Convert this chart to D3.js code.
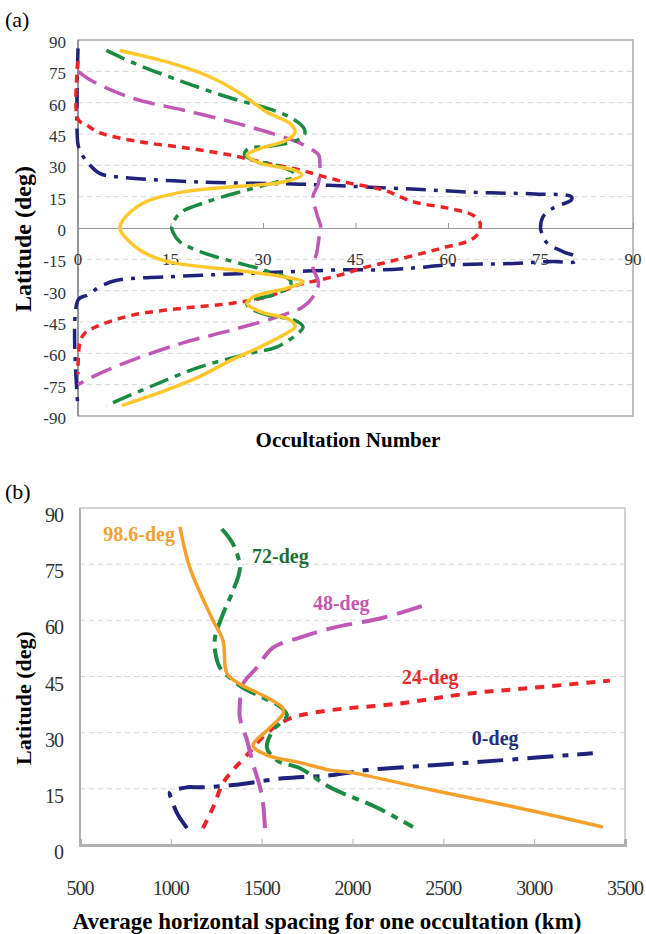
<!DOCTYPE html>
<html>
<head>
<meta charset="utf-8">
<script src="https://cdn.jsdelivr.net/npm/d3@7"></script>
<style>
  body { margin: 0; background: #fff; }
  svg, svg text { font-family: "Liberation Serif", "DejaVu Serif", serif; }
</style>
</head>
<body>
<div id="chart"></div>
<script>
// ---- panel (a): occultation number vs latitude ----
var latTicksA = [90, 75, 60, 45, 30, 15, 0, -15, -30, -45, -60, -75, -90];
var occTicksA = [0, 15, 30, 45, 60, 75, 90];

var a0Occ = [0, 0, 0.5, 1.5, 3.6, 6.3, 20, 36, 44, 55, 65, 74, 80, 80, 77, 75.4, 75, 75.2, 76, 78.7, 80.6, 80.6, 77, 70.6, 60, 55, 49.5, 43, 34, 25, 14.4, 6.3, 3.6, 1.6, 0, 0];
var a0Lat = [86, 40, 36, 31.6, 26, 24.5, 22, 21, 20, 18.5, 17, 16.3, 15, 13.4, 9.5, 5.3, 0, -2.4, -7, -11.4, -13.7, -16, -16, -17, -17.7, -19, -20, -20, -21, -22, -23.4, -25, -28, -32, -34.5, -86];

var a24Occ = [0, 0, 1.4, 3.6, 10, 17.6, 24.6, 30.6, 36, 40, 44, 49.5, 54.4, 60, 64, 65.2, 65.2, 64.7, 63, 59.8, 56, 50.6, 46, 42.5, 39, 36, 30.6, 25, 17, 9, 3.6, 1.1, 0.3, 0];
var a24Lat = [80, 52, 49.3, 45.5, 41.3, 38.3, 35, 31, 27.8, 24.5, 21.5, 18.2, 12.5, 9.5, 6.2, 2.4, 0, -3.4, -6.6, -9, -12, -16, -19.3, -22.5, -25, -27, -33, -36, -38.4, -41.6, -46.5, -50.4, -55, -70];

var a48Occ = [0, 2.5, 9, 17, 25, 32.3, 36, 39, 39.2, 39, 38.1, 38.7, 39.4, 39.2, 38.7, 38.1, 39, 38.1, 36.5, 33.3, 25, 17, 9, 2.5, 0];
var a48Lat = [75, 70, 62, 56.5, 50.7, 44.5, 40.6, 35, 32.5, 21.5, 15, 7, 0, -2.5, -12, -18.6, -26.5, -33, -37.7, -41.6, -48.8, -55, -63, -71, -75];

var a72Occ = [4.6, 9, 17, 25, 30.6, 34.4, 36.5, 36.8, 35.5, 30.6, 27.6, 27, 28.4, 32.2, 35, 35, 31.7, 26.3, 20.9, 16.5, 15.2, 15.4, 16.5, 19.8, 25, 30, 34.4, 34.4, 31.7, 27.4, 27.6, 30.6, 35, 36.5, 36, 32.2, 27.9, 19.8, 11.7, 4.6];
var a72Lat = [85, 79, 70, 62, 57.4, 53, 48.4, 45.4, 42, 39, 38, 35, 32.5, 30, 26.3, 24.5, 21.6, 17.3, 12.5, 7, 0.5, -2, -6.5, -11.3, -16, -20, -25, -27.8, -32, -35.4, -37.7, -41.6, -44, -47.3, -49.6, -57, -60, -66.5, -76, -85];

var a98Occ = [6.8, 14.4, 20.9, 26.3, 30.6, 34.4, 35.2, 33.8, 29.5, 27.4, 29.5, 35, 36.3, 33.3, 25, 17, 10.6, 7.3, 6.8, 7.1, 10, 14.4, 25, 33.2, 36.5, 33.9, 28.4, 27.4, 29.5, 34.4, 35.2, 33.8, 29.5, 25, 19.8, 14.4, 7.1];
var a98Lat = [85, 79.5, 73, 64.5, 55.5, 50, 46, 42, 38, 35, 31, 27.8, 25.4, 22, 19.7, 17.3, 12, 3.8, 0, -2.4, -10.5, -16, -20, -23.3, -25.8, -28.8, -33, -36, -40, -44, -47.4, -50.4, -57, -63, -71, -77.5, -85];

// ---- panel (b): average horizontal spacing vs latitude ----
var latTicksB = [0, 15, 30, 45, 60, 75, 90];
var kmTicksB = [500, 1000, 1500, 2000, 2500, 3000, 3500];

var b0Km = [1089, 1034, 1006, 995, 1089, 1160, 1342, 1617, 1876, 2079, 2443, 2811, 3323];
var b0Lat = [4.5, 8.5, 12, 14, 15.4, 15.4, 16, 17.8, 18.6, 20, 21.3, 22.6, 24.5];

var b24Km = [1177, 1232, 1287, 1342, 1419, 1520, 1620, 1711, 1876, 2261, 2630, 2993, 3417];
var b24Lat = [4.5, 10, 16.5, 20, 24, 29.5, 33, 34.6, 36, 37.8, 40.4, 42, 43.9];

var b48Km = [1518, 1508, 1491, 1452, 1419, 1380, 1380, 1397, 1474, 1562, 1711, 1892, 2168, 2388];
var b48Lat = [4.5, 11, 15.4, 21.8, 28, 34, 37.8, 43, 47.4, 52.7, 55.4, 58, 60.7, 63.9];

var b72Km = [1281, 1342, 1380, 1342, 1287, 1243, 1243, 1270, 1342, 1397, 1500, 1600, 1639, 1562, 1529, 1584, 1711, 1876, 2134, 2333];
var b72Lat = [84.4, 80.4, 74, 67.9, 61.7, 55.4, 52, 47.4, 44, 42, 39.5, 37, 34.6, 30.6, 26, 22.6, 20.5, 15.4, 10, 4.8];

var b98Km = [1050, 1105, 1232, 1287, 1309, 1380, 1529, 1617, 1617, 1529, 1452, 1529, 1711, 1876, 1986, 2443, 2905, 3378];
var b98Lat = [85, 74, 60, 54.6, 45.8, 43, 39.4, 36.5, 35, 30.6, 26.6, 24, 22, 20, 19.4, 14.6, 10, 4.8];

var seriesNames = ["0-deg", "24-deg", "48-deg", "72-deg", "98.6-deg"];

function zip(xs, ys) {
    return xs.map(function(v, i) { return [v, ys[i]]; });
}

var serif = "'Liberation Serif', 'DejaVu Serif', serif";

var svg = d3.select('#chart').append('svg')
    .attr("width", 646)
    .attr("height", 934)
    .attr("font-family", serif);

// =================== panel (a) ===================
var marginA = { top: 40, left: 78, right: 13, bottom: 518 },
    widthA = 646 - marginA.left - marginA.right,
    heightA = 934 - marginA.top - marginA.bottom;

var xA = d3.scaleLinear().domain([0, 90]).range([0, widthA]);
var yA = d3.scaleLinear().domain([-90, 90]).range([heightA, 0]);

var gA = svg.append("g")
    .attr("transform", "translate(" + marginA.left + "," + marginA.top + ")");

// dashed gridlines
gA.append("g").selectAll("line")
    .data(latTicksA.filter(function(d) { return d !== 0 && Math.abs(d) !== 90; }))
    .enter().append("line")
    .attr("x1", 0).attr("x2", widthA)
    .attr("y1", function(d) { return yA(d); })
    .attr("y2", function(d) { return yA(d); })
    .attr("stroke", "#d6d6d6")
    .attr("stroke-dasharray", "5,4");

// frame
gA.append("rect")
    .attr("width", widthA).attr("height", heightA)
    .attr("fill", "none").attr("stroke", "#a8a8a8").attr("stroke-width", 1.5);
gA.append("line")
    .attr("x1", 0).attr("x2", 0).attr("y1", 0).attr("y2", heightA)
    .attr("stroke", "#8a8a8a").attr("stroke-width", 1.5);

// x axis through 0
var xAxisA = gA.append("g")
    .attr("transform", "translate(0," + yA(0) + ")")
    .call(d3.axisTop(xA).tickValues(occTicksA).tickSize(5).tickFormat(""));
xAxisA.select(".domain").attr("stroke", "#9a9a9a");
xAxisA.selectAll(".tick line").attr("stroke", "#9a9a9a");

gA.append("g").selectAll("text")
    .data(occTicksA)
    .enter().append("text")
    .attr("x", function(d) { return xA(d); })
    .attr("y", yA(0) + 31)
    .attr("dy", ".35em")
    .attr("text-anchor", "middle")
    .attr("font-family", serif)
    .attr("font-size", "17px")
    .attr("fill", "#333")
    .text(function(d) { return d; });

// y tick labels
gA.append("g").selectAll("text")
    .data(latTicksA)
    .enter().append("text")
    .attr("x", -12)
    .attr("y", function(d) { return yA(d) + 2; })
    .attr("dy", ".35em")
    .attr("text-anchor", "end")
    .attr("font-family", serif)
    .attr("font-size", "17px")
    .attr("fill", "#333")
    .text(function(d) { return d; });

var lineA = d3.line()
    .x(function(d) { return xA(d[0]); })
    .y(function(d) { return yA(d[1]); })
    .curve(d3.curveCatmullRom.alpha(0.5));

var seriesA = [
    { pts: zip(a0Occ, a0Lat), color: "#1f237a", dash: "20,8,4,8", w: 3.5 },
    { pts: zip(a24Occ, a24Lat), color: "#ec2327", dash: "8,6", w: 3.5 },
    { pts: zip(a48Occ, a48Lat), color: "#c058b5", dash: "22,9", w: 3.5 },
    { pts: zip(a72Occ, a72Lat), color: "#1b8a42", dash: "20,7,6,7", w: 3.5 },
    { pts: zip(a98Occ, a98Lat), color: "#fcc82c", dash: null, w: 3.5 }
];

gA.append("g").selectAll("path")
    .data(seriesA)
    .enter().append("path")
    .attr("d", function(d) { return lineA(d.pts); })
    .attr("fill", "none")
    .attr("stroke", function(d) { return d.color; })
    .attr("stroke-width", function(d) { return d.w; })
    .attr("stroke-dasharray", function(d) { return d.dash; });

// titles
svg.append("text")
    .attr("x", 5).attr("y", 27)
    .attr("font-family", serif)
    .attr("font-size", "22px")
    .text("(a)");

svg.append("text")
    .attr("transform", "translate(31,239) rotate(-90)")
    .attr("text-anchor", "middle")
    .attr("font-family", serif)
    .attr("font-size", "24px")
    .attr("font-weight", "bold")
    .text("Latitude (deg)");

svg.append("text")
    .attr("x", 348).attr("y", 447)
    .attr("text-anchor", "middle")
    .attr("font-family", serif)
    .attr("font-size", "21px")
    .attr("font-weight", "bold")
    .text("Occultation Number");

// =================== panel (b) ===================
var marginB = { top: 508, left: 80, right: 21, bottom: 89 },
    widthB = 646 - marginB.left - marginB.right,
    heightB = 934 - marginB.top - marginB.bottom;

var xB = d3.scaleLinear().domain([500, 3500]).range([0, widthB]);
var yB = d3.scaleLinear().domain([0, 90]).range([heightB, 0]);

var gB = svg.append("g")
    .attr("transform", "translate(" + marginB.left + "," + marginB.top + ")");

gB.append("g").selectAll("line")
    .data(latTicksB.filter(function(d) { return d !== 0 && d !== 90; }))
    .enter().append("line")
    .attr("x1", 0).attr("x2", widthB)
    .attr("y1", function(d) { return yB(d); })
    .attr("y2", function(d) { return yB(d); })
    .attr("stroke", "#d6d6d6")
    .attr("stroke-dasharray", "5,4");

gB.append("rect")
    .attr("width", widthB).attr("height", heightB)
    .attr("fill", "none").attr("stroke", "#c4c4c4").attr("stroke-width", 1.5);
gB.append("line")
    .attr("x1", 0).attr("x2", 0).attr("y1", 0).attr("y2", heightB)
    .attr("stroke", "#b0b0b0").attr("stroke-width", 2);

var xAxisB = gB.append("g")
    .attr("transform", "translate(0," + heightB + ")")
    .call(d3.axisTop(xB).tickValues(kmTicksB).tickSize(6).tickFormat(""));
xAxisB.select(".domain").attr("stroke", "#b0b0b0").attr("stroke-width", 3);
xAxisB.selectAll(".tick line").attr("stroke", "#b0b0b0");

gB.append("g").selectAll("text")
    .data(kmTicksB)
    .enter().append("text")
    .attr("x", function(d) { return xB(d); })
    .attr("y", heightB + 43)
    .attr("dy", ".35em")
    .attr("text-anchor", "middle")
    .attr("font-family", serif)
    .attr("font-size", "20px")
    .attr("letter-spacing", "-1px")
    .attr("fill", "#333")
    .text(function(d) { return d; });

gB.append("g").selectAll("text")
    .data(latTicksB)
    .enter().append("text")
    .attr("x", -17)
    .attr("y", function(d) { return yB(d) + 7; })
    .attr("dy", ".35em")
    .attr("text-anchor", "end")
    .attr("font-family", serif)
    .attr("font-size", "20px")
    .attr("letter-spacing", "-1px")
    .attr("fill", "#333")
    .text(function(d) { return d; });

var lineB = d3.line()
    .x(function(d) { return xB(d[0]); })
    .y(function(d) { return yB(d[1]); })
    .curve(d3.curveCatmullRom.alpha(0.5));

var seriesB = [
    { pts: zip(b0Km, b0Lat), color: "#1f237a", dash: "26,9,6,9", w: 4, label: seriesNames[0], lx: 2657, ly: 26.6, tc: "#232c7e", anchor: "start" },
    { pts: zip(b24Km, b24Lat), color: "#ec2327", dash: "9,8", w: 4, label: seriesNames[1], lx: 2272, ly: 42.9, tc: "#e82a2a", anchor: "start" },
    { pts: zip(b48Km, b48Lat), color: "#c058b5", dash: "26,10", w: 4, label: seriesNames[2], lx: 1782, ly: 62.8, tc: "#c458b0", anchor: "start" },
    { pts: zip(b72Km, b72Lat), color: "#1b8a42", dash: "22,7,7,7", w: 4, label: seriesNames[3], lx: 1447, ly: 75.3, tc: "#1f6e3a", anchor: "start" },
    { pts: zip(b98Km, b98Lat), color: "#f6a02c", dash: null, w: 3.5, label: seriesNames[4], lx: 1023, ly: 81.2, tc: "#f2a033", anchor: "end" }
];

gB.append("g").selectAll("path")
    .data(seriesB)
    .enter().append("path")
    .attr("d", function(d) { return lineB(d.pts); })
    .attr("fill", "none")
    .attr("stroke", function(d) { return d.color; })
    .attr("stroke-width", function(d) { return d.w; })
    .attr("stroke-dasharray", function(d) { return d.dash; });

gB.append("g").selectAll("text")
    .data(seriesB)
    .enter().append("text")
    .attr("x", function(d) { return xB(d.lx); })
    .attr("y", function(d) { return yB(d.ly); })
    .attr("text-anchor", function(d) { return d.anchor; })
    .attr("font-family", serif)
    .attr("font-size", "20px")
    .attr("font-weight", "bold")
    .attr("fill", function(d) { return d.tc; })
    .text(function(d) { return d.label; });

svg.append("text")
    .attr("x", 5).attr("y", 499)
    .attr("font-family", serif)
    .attr("font-size", "22px")
    .text("(b)");

svg.append("text")
    .attr("transform", "translate(31,698) rotate(-90)")
    .attr("text-anchor", "middle")
    .attr("font-family", serif)
    .attr("font-size", "22px")
    .attr("font-weight", "bold")
    .text("Latitude (deg)");

svg.append("text")
    .attr("x", 327).attr("y", 929)
    .attr("text-anchor", "middle")
    .attr("font-family", serif)
    .attr("font-size", "23px")
    .attr("font-weight", "bold")
    .text("Average horizontal spacing for one occultation (km)");
</script>
</body>
</html>
